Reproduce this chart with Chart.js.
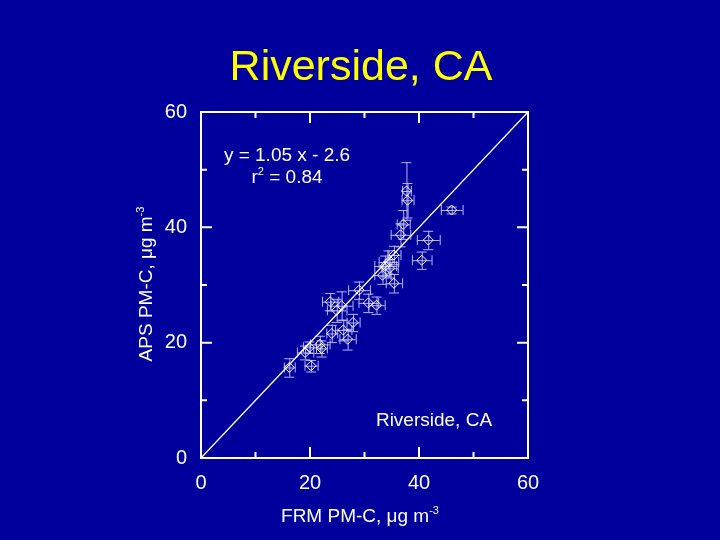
<!DOCTYPE html>
<html><head><meta charset="utf-8">
<script src="https://cdn.jsdelivr.net/npm/chart.js@4.4.1/dist/chart.umd.min.js"></script>
<style>html,body{margin:0;padding:0;background:#00009C;}#c{display:block;}</style>
</head><body>
<canvas id="c" width="720" height="540"></canvas>
<script>
const frmX  = [16.2,20.2,19.1,19.9,21.8,22.1,24.0,26.1,26.9,27.9,23.7,24.9,25.8,29.0,30.7,32.2,33.3,33.8,34.4,34.6,35.4,35.4,36.6,37.1,37.9,37.7,41.7,40.5,46.0];
const apsY  = [15.7,16.0,18.3,19.2,19.7,19.0,21.6,22.2,20.6,23.5,27.1,25.6,26.4,29.1,26.9,26.5,31.7,33.3,34.0,32.9,35.2,30.3,38.7,40.5,44.7,46.3,37.8,34.3,43.0];
const frmErr= [1.0,1.2,1.5,1.2,1.8,1.0,1.0,1.5,1.5,1.2,1.5,1.8,2.0,2.0,1.8,1.5,1.5,2.0,1.8,1.5,1.2,1.5,1.8,1.2,1.1,0.8,2.1,1.8,2.0];
const apsErr= [1.6,1.0,1.2,1.0,1.5,1.4,1.5,1.8,1.8,1.5,1.5,2.0,2.5,1.5,1.6,1.5,1.5,1.8,2.0,1.6,1.6,1.6,2.0,2.5,3.0,5.0,1.6,1.5,0.6];
const oneToOneX = [0,60];
const oneToOneY = [0,60];
const tickValues = [0,10,20,30,40,50,60];
const labelValues = [0,20,40,60];

const BG = '#00009C';
const FONT = '"Liberation Sans", Arial, sans-serif';

const errorBars = {
  id:'errorBars',
  beforeDatasetsDraw(chart){
    const {ctx, chartArea:a, scales:{x,y}} = chart;
    ctx.save();
    ctx.beginPath(); ctx.rect(a.left,a.top,a.right-a.left,a.bottom-a.top); ctx.clip();
    ctx.strokeStyle = 'rgba(190,190,255,0.95)';
    ctx.lineWidth = 1;
    const cap = 5;
    for(let i=0;i<frmX.length;i++){
      const px = x.getPixelForValue(frmX[i]), py = y.getPixelForValue(apsY[i]);
      const x0 = x.getPixelForValue(frmX[i]-frmErr[i]), x1 = x.getPixelForValue(frmX[i]+frmErr[i]);
      const y0 = y.getPixelForValue(apsY[i]-apsErr[i]), y1 = y.getPixelForValue(apsY[i]+apsErr[i]);
      ctx.beginPath();
      ctx.moveTo(x0,py+0.5); ctx.lineTo(x1,py+0.5);
      ctx.moveTo(x0+0.5,py-cap); ctx.lineTo(x0+0.5,py+cap);
      ctx.moveTo(x1+0.5,py-cap); ctx.lineTo(x1+0.5,py+cap);
      ctx.moveTo(px+0.5,y0); ctx.lineTo(px+0.5,y1);
      ctx.moveTo(px-cap,y0+0.5); ctx.lineTo(px+cap,y0+0.5);
      ctx.moveTo(px-cap,y1+0.5); ctx.lineTo(px+cap,y1+0.5);
      ctx.stroke();
    }
    ctx.restore();
  }
};

// runs: array of [text, isSup]
function drawRuns(ctx, runs, cx, cy, size){
  const supSize = Math.round(size*0.6);
  let total = 0;
  const widths = runs.map(([t,s])=>{
    ctx.font = (s?supSize:size)+'px '+FONT;
    const w = ctx.measureText(t).width; total += w; return w;
  });
  let xpos = cx - total/2;
  ctx.textAlign='left'; ctx.textBaseline='middle';
  runs.forEach(([t,s],i)=>{
    ctx.font = (s?supSize:size)+'px '+FONT;
    ctx.fillText(t, xpos, s ? cy-size*0.33 : cy);
    xpos += widths[i];
  });
}

const decor = {
  id:'decor',
  beforeDraw(chart){
    const {ctx,width,height} = chart;
    ctx.save(); ctx.fillStyle=BG; ctx.fillRect(0,0,width,height); ctx.restore();
  },
  afterDraw(chart){
    const {ctx, chartArea:a, scales:{x,y}} = chart;
    ctx.save();
    ctx.strokeStyle='#ffffff'; ctx.lineWidth=2;
    ctx.strokeRect(a.left,a.top,a.right-a.left,a.bottom-a.top);
    tickValues.forEach(v=>{
      const len = (v%20===0)?11:6;
      const px = x.getPixelForValue(v), py = y.getPixelForValue(v);
      ctx.beginPath();
      ctx.moveTo(px,a.bottom); ctx.lineTo(px,a.bottom-len);
      ctx.moveTo(px,a.top); ctx.lineTo(px,a.top+len);
      ctx.moveTo(a.left,py); ctx.lineTo(a.left+len,py);
      ctx.moveTo(a.right,py); ctx.lineTo(a.right-len,py);
      ctx.stroke();
    });
    // title
    ctx.fillStyle='#FFFF00';
    ctx.font='43px '+FONT; ctx.textAlign='center'; ctx.textBaseline='middle';
    ctx.fillText('Riverside, CA', 361, 68);
    ctx.fillStyle='#ffffff';
    // axis titles
    drawRuns(ctx, [['FRM PM-C, μg m',false],['-3',true]], 360, 517, 19);
    ctx.save();
    ctx.translate(147, 284); ctx.rotate(-Math.PI/2);
    drawRuns(ctx, [['APS PM-C, μg m',false],['-3',true]], 0, 0, 19);
    ctx.restore();
    // annotations
    drawRuns(ctx, [['y = 1.05 x - 2.6',false]], 287, 156, 19);
    drawRuns(ctx, [['r',false],['2',true],[' = 0.84',false]], 287, 178, 19);
    drawRuns(ctx, [['Riverside, CA',false]], 434, 421, 19);
    ctx.restore();
  }
};

new Chart(document.getElementById('c'), {
  type:'scatter',
  data:{
    datasets:[
      {
        type:'line',
        data: oneToOneX.map((v,i)=>({x:v,y:oneToOneY[i]})),
        borderColor:'#ffffff', borderWidth:1.3, pointRadius:0, fill:false
      },
      {
        data: frmX.map((v,i)=>({x:v,y:apsY[i]})),
        pointStyle:'rectRot', pointRadius:5, pointHoverRadius:5,
        borderColor:'#ffffff', borderWidth:1, backgroundColor:'rgba(0,0,0,0)'
      }
    ]
  },
  options:{
    responsive:false, animation:false, devicePixelRatio:1,
    layout:{padding:{left:0,top:112,right:192,bottom:0}},
    plugins:{legend:{display:false},tooltip:{enabled:false},title:{display:false}},
    scales:{
      x:{
        type:'linear', min:0, max:60,
        grid:{display:false, drawTicks:false}, border:{display:false},
        afterBuildTicks(s){ s.ticks = labelValues.map(v=>({value:v})); },
        afterFit(s){ s.height = 82; },
        ticks:{color:'#ffffff', font:{size:20, family:FONT}, padding:13, maxRotation:0, autoSkip:false}
      },
      y:{
        type:'linear', min:0, max:60,
        grid:{display:false, drawTicks:false}, border:{display:false},
        afterBuildTicks(s){ s.ticks = labelValues.map(v=>({value:v})); },
        afterFit(s){ s.width = 201; },
        ticks:{color:'#ffffff', font:{size:20, family:FONT}, padding:14, autoSkip:false}
      }
    }
  },
  plugins:[errorBars, decor]
});
</script>
</body></html>
